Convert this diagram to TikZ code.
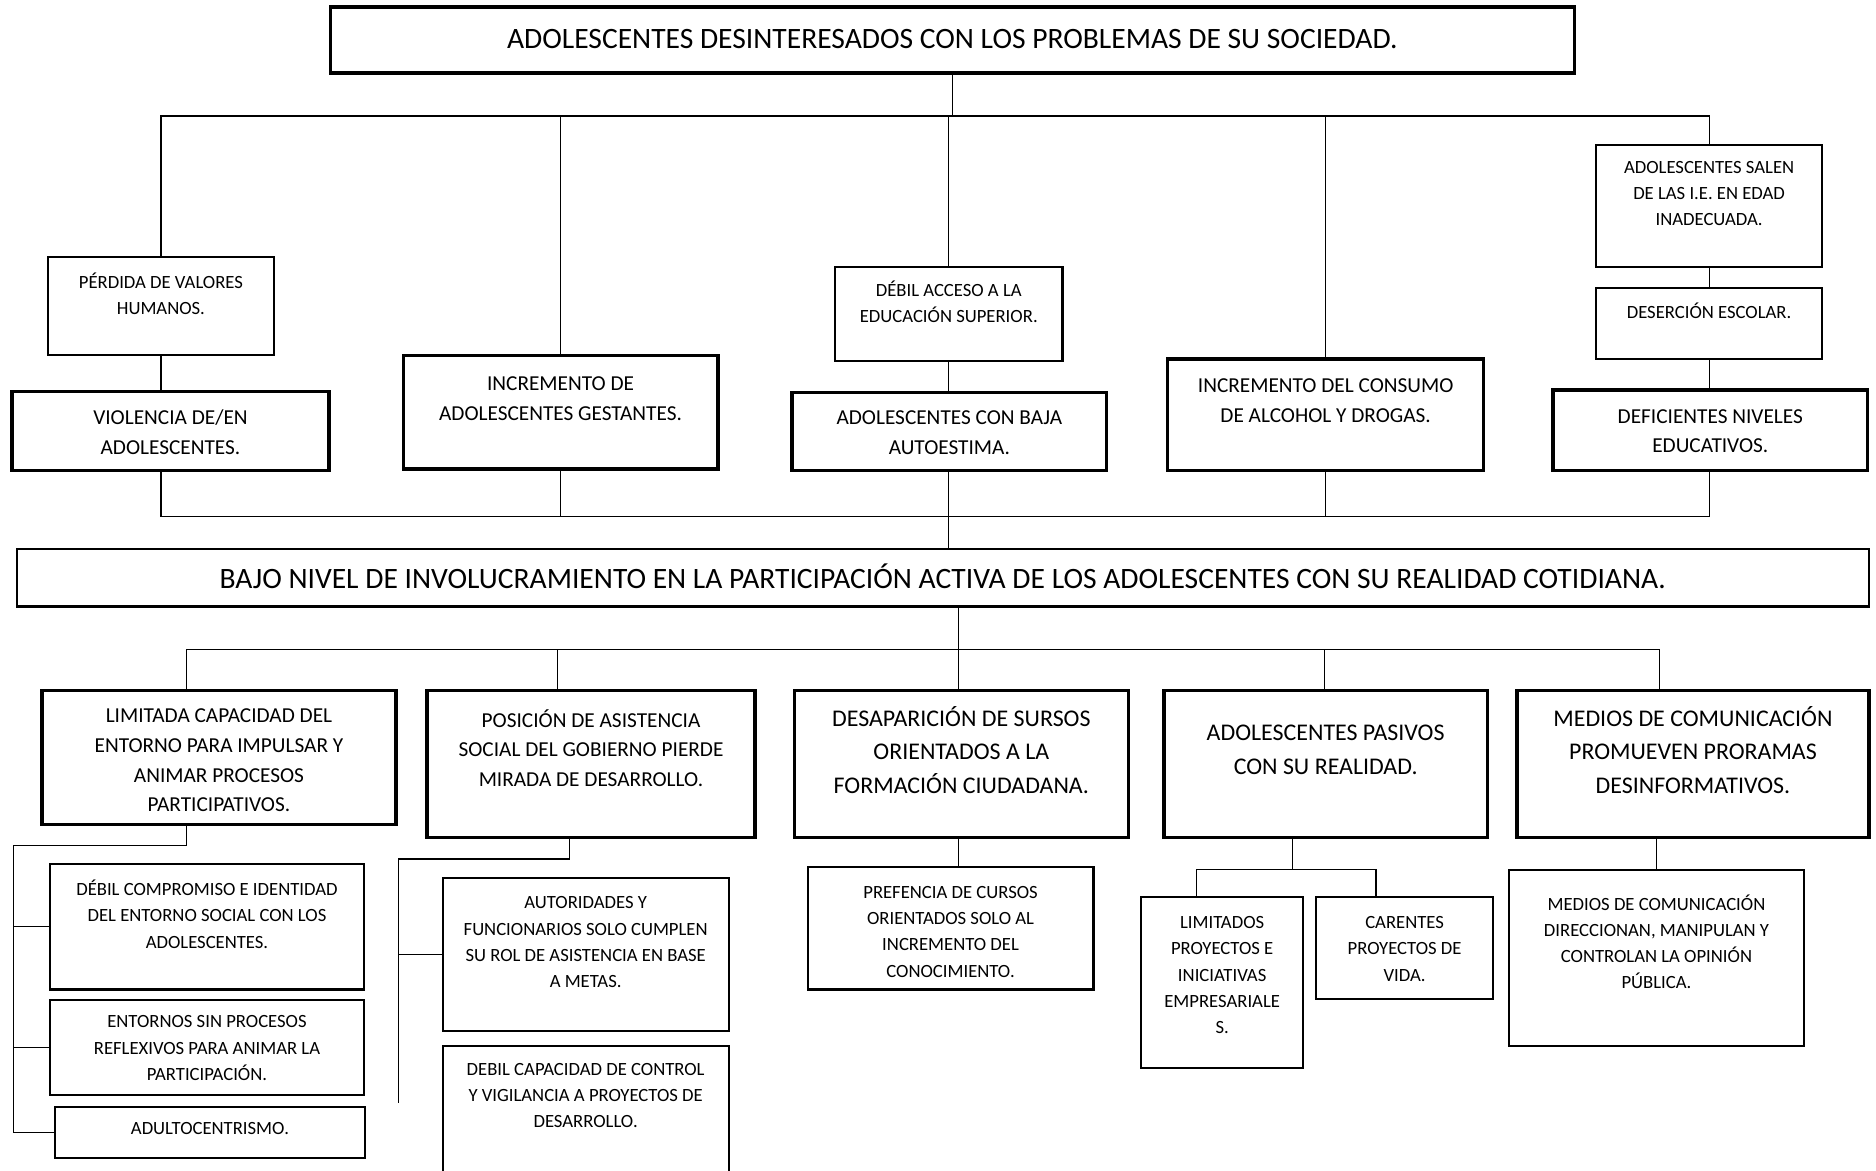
\documentclass[tikz,border=0pt]{standalone}
\usepackage{fontspec}
\setmainfont{Carlito}
\usetikzlibrary{fit}

\begin{document}
\begin{tikzpicture}[x=0.5pt, y=-0.5pt,
        thickbox/.style={draw, line width=1.4pt, inner sep=0pt},
        thinbox/.style={draw, line width=0.9pt, inner sep=0pt},
        fbig/.style={font=\fontsize{12.35}{14}\selectfont, align=center, yshift=0.5pt},
        fmid/.style={font=\fontsize{8.9}{12.4}\selectfont, align=center, yshift=-0.5pt},
        flarge/.style={font=\fontsize{10}{14}\selectfont, align=center, yshift=-1.1pt},
        fsmall/.style={font=\fontsize{7.8}{11}\selectfont, align=center, yshift=-0.3pt},
        link/.style={line width=0.5pt}]
        \useasboundingbox (0,0) rectangle (1568,978);

        % problema central y efectos
        \node[thickbox, fit={(276,6) (1316,61)}, label={[fbig]center:{ADOLESCENTES DESINTERESADOS CON LOS PROBLEMAS DE SU SOCIEDAD.}}] (top) {};

        \node[thinbox, fit={(40,215) (229,297)}, label={[fsmall]center:{PÉRDIDA DE VALORES\\HUMANOS.\\~}}] (perdida) {};
        \node[thickbox, fit={(10,327) (275,393)}, label={[fmid]center:{VIOLENCIA DE/EN\\ADOLESCENTES.}}] (violencia) {};
        \node[thickbox, fit={(337,297) (600,392)}, label={[fmid]center:{INCREMENTO DE\\ADOLESCENTES GESTANTES.\\~}}] (gestantes) {};
        \node[thinbox, fit={(698,223) (888,302)}, label={[fsmall]center:{DÉBIL ACCESO A LA\\EDUCACIÓN SUPERIOR.\\~}}] (acceso) {};
        \node[thickbox, fit={(662,328) (925,393)}, label={[fmid]center:{ADOLESCENTES CON BAJA\\AUTOESTIMA.}}] (autoestima) {};
        \node[thickbox, fit={(976,300) (1240,393)}, label={[fmid]center:{INCREMENTO DEL CONSUMO\\DE ALCOHOL Y DROGAS.\\~}}] (consumo) {};
        \node[thinbox, fit={(1334,121) (1523,223)}, label={[fsmall]center:{ADOLESCENTES SALEN\\DE LAS I.E. EN EDAD\\INADECUADA.\\~}}] (salen) {};
        \node[thinbox, fit={(1334,241) (1523,300)}, label={[fsmall]center:{DESERCIÓN ESCOLAR.\\~}}] (desercion) {};
        \node[thickbox, fit={(1298,326) (1561,393)}, label={[fmid]center:{DEFICIENTES NIVELES\\EDUCATIVOS.}}] (niveles) {};

        \node[draw, line width=1pt, inner sep=0pt, fit={(14,459) (1562,507)}, label={[fbig]center:{BAJO NIVEL DE INVOLUCRAMIENTO EN LA PARTICIPACIÓN ACTIVA DE LOS ADOLESCENTES CON SU REALIDAD COTIDIANA.}}] (bajo) {};

        % causas
        \node[thickbox, fit={(35,577) (331,689)}, label={[fmid, yshift=-0.8pt]center:{LIMITADA CAPACIDAD DEL\\ENTORNO PARA IMPULSAR Y\\ANIMAR PROCESOS\\PARTICIPATIVOS.}}] (limitada) {};
        \node[thickbox, fit={(357,577) (631,700)}, label={[fmid, yshift=1pt]center:{POSICIÓN DE ASISTENCIA\\SOCIAL DEL GOBIERNO PIERDE\\MIRADA DE DESARROLLO.\\~}}] (posicion) {};
        \node[thickbox, fit={(664,577) (943,700)}, label={[flarge]center:{DESAPARICIÓN DE SURSOS\\ORIENTADOS A LA\\FORMACIÓN CIUDADANA.\\~}}] (desaparicion) {};
        \node[thickbox, fit={(973,577) (1243,700)}, label={[flarge]center:{ADOLESCENTES PASIVOS\\CON SU REALIDAD.\\~}}] (pasivos) {};
        \node[thickbox, fit={(1268,577) (1562,700)}, label={[flarge]center:{MEDIOS DE COMUNICACIÓN\\PROMUEVEN PRORAMAS\\DESINFORMATIVOS.\\~}}] (medios) {};

        \node[thinbox, fit={(42,722) (304,827)}, label={[fsmall]center:{DÉBIL COMPROMISO E IDENTIDAD\\DEL ENTORNO SOCIAL CON LOS\\ADOLESCENTES.\\~}}] (compromiso) {};
        \node[thinbox, fit={(42,836) (304,915)}, label={[fsmall]center:{ENTORNOS SIN PROCESOS\\REFLEXIVOS PARA ANIMAR LA\\PARTICIPACIÓN.}}] (entornos) {};
        \node[thinbox, fit={(46,925) (305,968)}, label={[fsmall, yshift=2pt]center:{ADULTOCENTRISMO.}}] (adulto) {};
        \node[thinbox, fit={(370,734) (609,862)}, label={[fsmall]center:{AUTORIDADES Y\\FUNCIONARIOS SOLO CUMPLEN\\SU ROL DE ASISTENCIA EN BASE\\A METAS.\\~}}] (autoridades) {};
        \node[thinbox, fit={(370,874) (609,1000)}, label={[fsmall]center:{DEBIL CAPACIDAD DE CONTROL\\Y VIGILANCIA A PROYECTOS DE\\DESARROLLO.\\~\\~}}] (capacidad) {};
        \node[thinbox, fit={(675,725) (914,827)}, label={[fsmall, yshift=-1pt]center:{PREFENCIA DE CURSOS\\ORIENTADOS SOLO AL\\INCREMENTO DEL\\CONOCIMIENTO.}}] (prefencia) {};
        \node[thinbox, fit={(954,750) (1089,893)}, label={[fsmall, yshift=-2pt]center:{LIMITADOS\\PROYECTOS E\\INICIATIVAS\\EMPRESARIALE\\S.\\~}}] (limproy) {};
        \node[thinbox, fit={(1100,750) (1248,835)}, label={[fsmall]center:{CARENTES\\PROYECTOS DE\\VIDA.}}] (carentes) {};
        \node[thinbox, fit={(1261,727) (1508,874)}, label={[fsmall, yshift=1.5pt]center:{MEDIOS DE COMUNICACIÓN\\DIRECCIONAN, MANIPULAN Y\\CONTROLAN LA OPINIÓN\\PÚBLICA.\\~}}] (direccionan) {};

        % arbol de efectos
        \coordinate (j1) at (795,97);
        \coordinate (j2) at (795,432);
        \draw[link] (top.south) -- (top.south |- j1);
        \draw[link] (perdida.north) |- (j1) -| (salen.north);
        \draw[link] (gestantes.north) -- (gestantes.north |- j1);
        \draw[link] (acceso.north) -- (acceso.north |- j1);
        \draw[link] (consumo.north) -- (consumo.north |- j1);
        \draw[link] (perdida.south) -- (perdida.south |- violencia.north);
        \draw[link] (acceso.south) -- (acceso.south |- autoestima.north);
        \draw[link] (salen.south) -- (desercion.north);
        \draw[link] (desercion.south) -- (desercion.south |- niveles.north);
        \draw[link] (violencia.south -| perdida.south) |- (j2) -| (niveles.south -| salen.south);
        \draw[link] (gestantes.south) -- (gestantes.south |- j2);
        \draw[link] (consumo.south) -- (consumo.south |- j2);
        \draw[link] (autoestima.south -| acceso.south) -- (bajo.north -| acceso.south);

        % arbol de causas
        \coordinate (k0) at (156,543);
        \coordinate (k2) at (466,543);
        \coordinate (k1) at (801,543);
        \coordinate (k4) at (1107,543);
        \coordinate (k5) at (1387,543);
        \draw[link] (bajo.south -| k1) -- (k1);
        \draw[link] (limitada.north -| k0) -- (k0) -- (k5) -- (medios.north -| k5);
        \draw[link] (posicion.north -| k2) -- (k2);
        \draw[link] (desaparicion.north -| k1) -- (k1);
        \draw[link] (pasivos.north -| k4) -- (k4);

        \coordinate (l0) at (156,707);
        \coordinate (l1) at (11,707);
        \draw[link] (limitada.south -| l0) -- (l0) -- (l1) |- (adulto.west);
        \draw[link] (compromiso.west) -- (compromiso.west -| l1);
        \draw[link] (entornos.west) -- (entornos.west -| l1);

        \coordinate (p0) at (476,718);
        \coordinate (p1) at (333,718);
        \coordinate (p2) at (333,922);
        \draw[link] (posicion.south -| p0) -- (p0) -- (p1) -- (p2);
        \draw[link] (autoridades.west) -- (autoridades.west -| p1);

        \draw[link] (desaparicion.south -| k1) -- (prefencia.north -| k1);

        \coordinate (q0) at (1080,727);
        \coordinate (q1) at (1000,727);
        \coordinate (q2) at (1150,727);
        \draw[link] (pasivos.south -| q0) -- (q0);
        \draw[link] (limproy.north -| q1) -- (q1) -- (q2) -- (carentes.north -| q2);

        \draw[link] (medios.south -| direccionan.north) -- (direccionan.north);
\end{tikzpicture}
\end{document}
